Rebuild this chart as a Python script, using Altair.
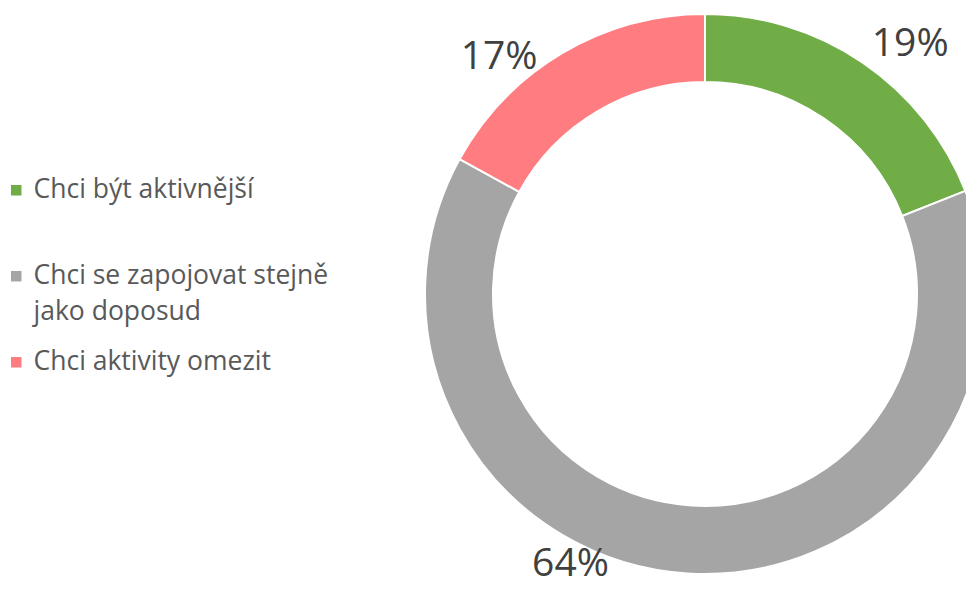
import altair as alt
import pandas as pd

categories = ["Chci být aktivnější", "Chci se zapojovat stejně jako doposud", "Chci aktivity omezit"]
values = [19, 64, 17]
labels = ["19%", "64%", "17%"]
colors = ["#70AD47", "#A5A5A5", "#FF7C80"]

df = pd.DataFrame({"cat": categories, "value": values, "label": labels, "order": [0, 1, 2]})

CX, CY = 697, 286

arc = alt.Chart(df).mark_arc(innerRadius=212, outerRadius=280, stroke="white", strokeWidth=2).encode(
    theta=alt.Theta("value:Q", stack=True),
    order=alt.Order("order:Q"),
    color=alt.Color(
        "cat:N",
        scale=alt.Scale(domain=categories, range=colors),
        sort=categories,
        legend=alt.Legend(
            orient="none", legendX=-5, legendY=169, title=None,
            symbolType="square", symbolSize=110, symbolStrokeWidth=0,
            labelFont="Open Sans", labelFontSize=26.5, labelColor="#595959",
            labelLimit=400, rowPadding=23, symbolOffset=0, labelOffset=4,
            gridAlign="all",
            labelExpr="datum.label == 'Chci se zapojovat stejně jako doposud' ? ['Chci se zapojovat stejně', 'jako doposud'] : datum.label",
        ),
    ),
    x=alt.value(CX), y=alt.value(CY),
)

lab_base = alt.Chart(df).transform_window(
    cum="sum(value)", sort=[alt.SortField("order")], frame=[None, 0]
).transform_calculate(mid="datum.cum - datum.value / 2")

offsets = {"19%": (31, 6), "17%": (-48, 30), "64%": (-115, -39)}
layers = [arc]
for lab in labels:
    dx, dy = offsets[lab]
    layers.append(
        lab_base.transform_filter(alt.datum.label == lab).mark_text(
            radius=310, font="Open Sans", fontSize=39, color="#404040", dx=dx, dy=dy
        ).encode(
            theta=alt.Theta("mid:Q", scale=alt.Scale(domain=[0, 100], range=[0, 6.283185307])),
            text="label:N",
            x=alt.value(CX), y=alt.value(CY),
        )
    )

chart = alt.layer(*layers).properties(
    width=958, height=580, padding=0, autosize=alt.AutoSizeParams(type="none")
).configure(
    view=alt.ViewConfig(strokeWidth=0),
    style={"guide-label": {"lineHeight": 36}},
)

chart.save("out.html", embed_options={"renderer": "svg", "actions": False})
